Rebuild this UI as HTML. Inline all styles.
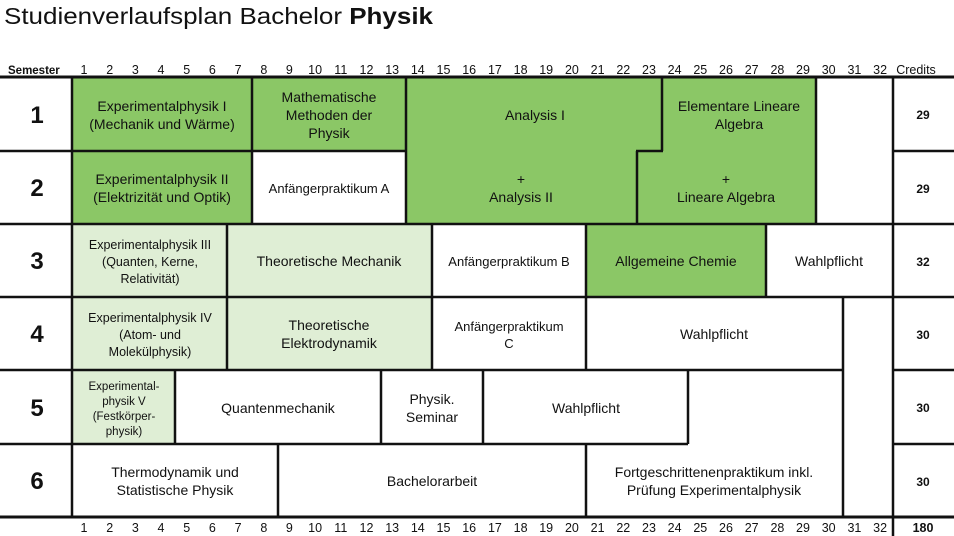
<!DOCTYPE html>
<html><head><meta charset="utf-8"><style>
html,body{margin:0;padding:0;background:#fff;width:954px;height:536px;overflow:hidden}
svg{display:block}
text{font-family:"Liberation Sans","DejaVu Sans",sans-serif;fill:#111}
</style></head><body>
<svg width="954" height="536" viewBox="0 0 954 536">
<text x="4" y="24" font-size="23" textLength="429" lengthAdjust="spacingAndGlyphs">Studienverlaufsplan Bachelor <tspan font-weight="bold">Physik</tspan></text>
<text x="8" y="74" font-size="11.5" font-weight="bold">Semester</text>
<text x="916" y="74" font-size="12.5" text-anchor="middle">Credits</text>
<g font-size="12.5" text-anchor="middle">
<text x="84" y="74">1</text><text x="109.7" y="74">2</text><text x="135.4" y="74">3</text><text x="161" y="74">4</text><text x="186.7" y="74">5</text><text x="212.4" y="74">6</text><text x="238.1" y="74">7</text><text x="263.8" y="74">8</text><text x="289.4" y="74">9</text><text x="315.1" y="74">10</text><text x="340.8" y="74">11</text><text x="366.5" y="74">12</text><text x="392.2" y="74">13</text><text x="417.8" y="74">14</text><text x="443.5" y="74">15</text><text x="469.2" y="74">16</text><text x="494.9" y="74">17</text><text x="520.6" y="74">18</text><text x="546.2" y="74">19</text><text x="571.9" y="74">20</text><text x="597.6" y="74">21</text><text x="623.3" y="74">22</text><text x="649" y="74">23</text><text x="674.6" y="74">24</text><text x="700.3" y="74">25</text><text x="726" y="74">26</text><text x="751.7" y="74">27</text><text x="777.4" y="74">28</text><text x="803" y="74">29</text><text x="828.7" y="74">30</text><text x="854.4" y="74">31</text><text x="880.1" y="74">32</text>
</g>
<g font-size="12.5" text-anchor="middle">
<text x="84" y="532">1</text><text x="109.7" y="532">2</text><text x="135.4" y="532">3</text><text x="161" y="532">4</text><text x="186.7" y="532">5</text><text x="212.4" y="532">6</text><text x="238.1" y="532">7</text><text x="263.8" y="532">8</text><text x="289.4" y="532">9</text><text x="315.1" y="532">10</text><text x="340.8" y="532">11</text><text x="366.5" y="532">12</text><text x="392.2" y="532">13</text><text x="417.8" y="532">14</text><text x="443.5" y="532">15</text><text x="469.2" y="532">16</text><text x="494.9" y="532">17</text><text x="520.6" y="532">18</text><text x="546.2" y="532">19</text><text x="571.9" y="532">20</text><text x="597.6" y="532">21</text><text x="623.3" y="532">22</text><text x="649" y="532">23</text><text x="674.6" y="532">24</text><text x="700.3" y="532">25</text><text x="726" y="532">26</text><text x="751.7" y="532">27</text><text x="777.4" y="532">28</text><text x="803" y="532">29</text><text x="828.7" y="532">30</text><text x="854.4" y="532">31</text><text x="880.1" y="532">32</text>
<text x="923" y="532" font-weight="bold">180</text>
</g>
<g fill="#8bc766">
<rect x="72" y="77" width="180" height="147"/>
<rect x="252" y="77" width="154" height="74"/>
<polygon points="406,77 816,77 816,224 406,224"/>
<rect x="586" y="224" width="180" height="73"/>
</g>
<g fill="#dfeed5">
<rect x="72" y="224" width="360" height="146"/>
<rect x="72" y="370" width="103" height="74"/>
</g>
<g stroke="#111" stroke-width="2.5" fill="none">
<line x1="0" y1="77" x2="954" y2="77" stroke-width="3"/>
<line x1="0" y1="151" x2="406" y2="151"/>
<line x1="636" y1="151" x2="663" y2="151"/>
<line x1="893" y1="151" x2="954" y2="151"/>
<line x1="0" y1="224" x2="954" y2="224"/>
<line x1="0" y1="297" x2="954" y2="297"/>
<line x1="0" y1="370" x2="843" y2="370"/>
<line x1="893" y1="370" x2="954" y2="370"/>
<line x1="0" y1="444" x2="688" y2="444"/>
<line x1="893" y1="444" x2="954" y2="444"/>
<line x1="0" y1="517" x2="954" y2="517" stroke-width="3"/>
<line x1="72" y1="77" x2="72" y2="517"/>
<line x1="893" y1="77" x2="893" y2="536"/>
<line x1="252" y1="77" x2="252" y2="224"/>
<line x1="406" y1="77" x2="406" y2="224"/>
<line x1="662" y1="77" x2="662" y2="151"/>
<line x1="816" y1="77" x2="816" y2="224"/>
<line x1="637" y1="151" x2="637" y2="224"/>
<line x1="227" y1="224" x2="227" y2="370"/>
<line x1="432" y1="224" x2="432" y2="370"/>
<line x1="586" y1="224" x2="586" y2="370"/>
<line x1="766" y1="224" x2="766" y2="297"/>
<line x1="843" y1="297" x2="843" y2="517"/>
<line x1="175" y1="370" x2="175" y2="444"/>
<line x1="381" y1="370" x2="381" y2="444"/>
<line x1="483" y1="370" x2="483" y2="444"/>
<line x1="688" y1="370" x2="688" y2="444"/>
<line x1="278" y1="444" x2="278" y2="517"/>
<line x1="586" y1="444" x2="586" y2="517"/>
</g>
<g font-size="24" font-weight="bold" text-anchor="middle">
<text x="37" y="123">1</text><text x="37" y="196">2</text><text x="37" y="269">3</text><text x="37" y="342">4</text><text x="37" y="416">5</text><text x="37" y="489">6</text>
</g>
<g font-size="12" font-weight="bold" text-anchor="middle">
<text x="923" y="119">29</text><text x="923" y="193">29</text><text x="923" y="266">32</text><text x="923" y="339">30</text><text x="923" y="412">30</text><text x="923" y="486">30</text>
</g>
<g font-size="14" text-anchor="middle">
<text x="162" y="111">Experimentalphysik I</text><text x="162" y="129">(Mechanik und Wärme)</text>
<text x="329" y="102">Mathematische</text><text x="329" y="120">Methoden der</text><text x="329" y="138">Physik</text>
<text x="535" y="120">Analysis I</text>
<text x="739" y="111">Elementare Lineare</text><text x="739" y="129">Algebra</text>
<text x="162" y="184">Experimentalphysik II</text><text x="162" y="202">(Elektrizität und Optik)</text>
<text x="329" y="193" font-size="13">Anfängerpraktikum A</text>
<text x="521" y="184">+</text><text x="521" y="202">Analysis II</text>
<text x="726" y="184">+</text><text x="726" y="202">Lineare Algebra</text>
<text x="150" y="249" font-size="12.5">Experimentalphysik III</text><text x="150" y="266" font-size="12.5">(Quanten, Kerne,</text><text x="150" y="283" font-size="12.5">Relativität)</text>
<text x="329" y="266">Theoretische Mechanik</text>
<text x="509" y="266" font-size="13">Anfängerpraktikum B</text>
<text x="676" y="266">Allgemeine Chemie</text>
<text x="829" y="266">Wahlpflicht</text>
<text x="150" y="322" font-size="12.5">Experimentalphysik IV</text><text x="150" y="339" font-size="12.5">(Atom- und</text><text x="150" y="356" font-size="12.5">Molekülphysik)</text>
<text x="329" y="330">Theoretische</text><text x="329" y="348">Elektrodynamik</text>
<text x="509" y="331" font-size="13">Anfängerpraktikum</text><text x="509" y="348" font-size="13">C</text>
<text x="714" y="339">Wahlpflicht</text>
<text x="124" y="390" font-size="11.5">Experimental-</text><text x="124" y="405" font-size="11.5">physik V</text><text x="124" y="420" font-size="11.5">(Festkörper-</text><text x="124" y="435" font-size="11.5">physik)</text>
<text x="278" y="413">Quantenmechanik</text>
<text x="432" y="404">Physik.</text><text x="432" y="422">Seminar</text>
<text x="586" y="413">Wahlpflicht</text>
<text x="175" y="477">Thermodynamik und</text><text x="175" y="495">Statistische Physik</text>
<text x="432" y="486">Bachelorarbeit</text>
<text x="714" y="477">Fortgeschrittenenpraktikum inkl.</text><text x="714" y="495">Prüfung Experimentalphysik</text>
</g>
</svg>
</body></html>
